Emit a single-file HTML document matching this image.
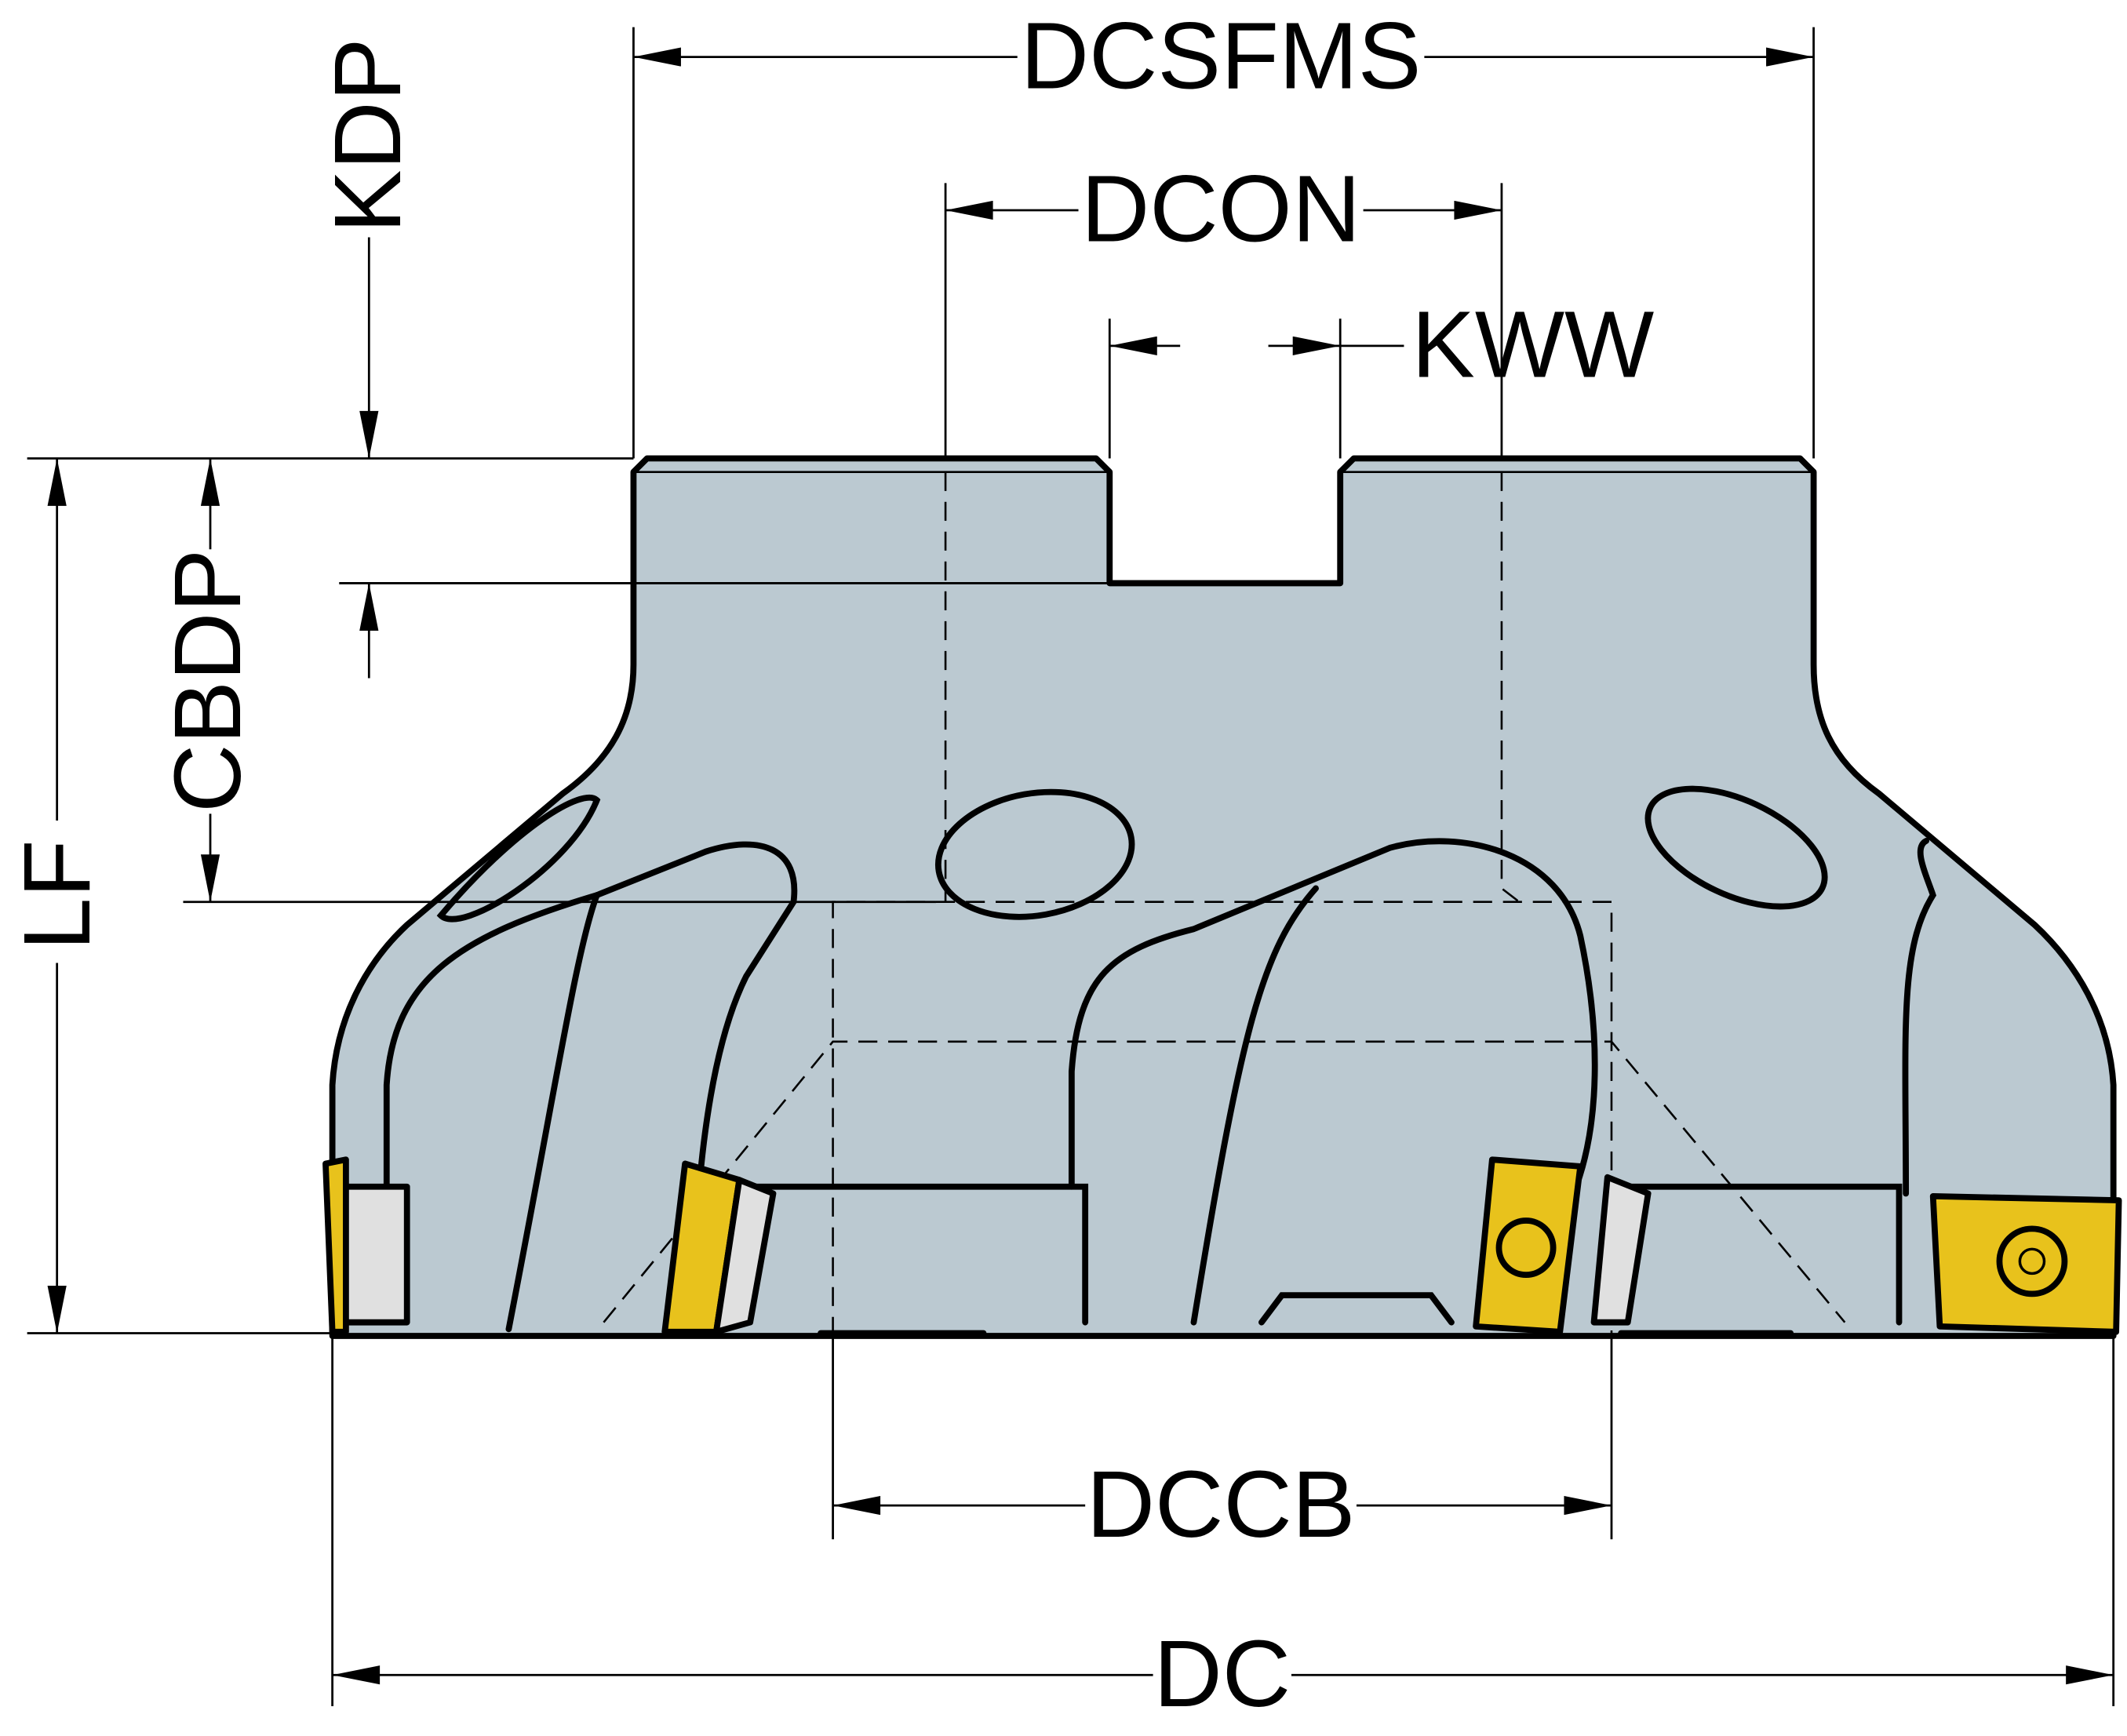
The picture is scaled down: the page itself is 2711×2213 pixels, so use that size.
<!DOCTYPE html>
<html><head><meta charset="utf-8"><style>
html,body{margin:0;padding:0;background:#fff}
svg{display:block}
text{font-family:"Liberation Sans",sans-serif;font-size:70px;fill:#000}
</style></head><body>
<svg width="2711" height="2213" viewBox="0 0 1568 1280" xmlns="http://www.w3.org/2000/svg">
<defs>
<marker id="a" viewBox="0 0 20 8" refX="20" refY="4" markerWidth="40" markerHeight="14" markerUnits="userSpaceOnUse" orient="auto-start-reverse"><path d="M0,0 L20,4 L0,8 Z" fill="#000"/></marker>
</defs>
<path d="M467,348 L477,338 L808,338 L818,348 L818,430 L988,430 L988,348 L998,338 L1327,338 L1337,348 L1337,490 C1337,530 1350,560 1385,585 L1500,682 C1530,710 1555,750 1558,800 L1558,985 L245,985 L245,800 C248,750 270,710 300,682 L415,585 C450,560 467,530 467,490 Z" fill="#bbc9d1" stroke="#000" stroke-width="4.5" stroke-linejoin="round"/>
<path d="M467,348 L818,348 M988,348 L1337,348" stroke="#000" stroke-width="1.5"/>
<g stroke="#000" stroke-width="1.5" fill="none" stroke-dasharray="14,8">
<path d="M697,348 L697,665 M1107,348 L1107,655 L1120,665 M614,985 L614,665 L1188,665 L1188,985 M445,975 L614,768 L1188,768 L1360,975"/>
</g>
<g stroke="#000" stroke-width="4.5" fill="none" stroke-linecap="round">
<path d="M440,590 C430,580 380,610 325,675 C340,690 420,640 440,590 Z"/>
<ellipse cx="763" cy="630" rx="72" ry="45" transform="rotate(-10 763 630)"/>
<ellipse cx="1280" cy="625" rx="70" ry="35" transform="rotate(25 1280 625)"/>
<path d="M285,875 L285,800 C290,720 340,690 440,660 L520,628 C560,615 590,625 585,665 L550,720 C530,760 520,820 515,880"/>
<path d="M440,660 C425,700 410,800 375,980"/>
<path d="M790,875 L790,790 C795,720 820,700 880,685 L1025,625 C1080,610 1150,630 1165,690 C1180,760 1180,830 1160,880"/>
<path d="M970,655 C930,700 915,760 880,975"/>
<path d="M1420,620 C1410,625 1420,645 1425,660 C1400,700 1405,760 1405,880"/>
<path d="M555,875 L800,875 L800,975"/>
<path d="M1190,875 L1400,875 L1400,975"/>
<path d="M930,975 L945,955 L1055,955 L1070,975"/>
<path d="M605,983 L725,983 M1195,983 L1320,983"/>
</g>
<g stroke="#000" stroke-width="4.5" stroke-linejoin="round">
<path d="M240,858 L255,855 L255,982 L245,982 Z" fill="#e8c21c"/>
<rect x="255" y="875" width="45" height="100" fill="#e0e0e0"/>
<path d="M505,858 L545,870 L528,982 L490,982 Z" fill="#e8c21c"/>
<path d="M545,870 L570,880 L553,975 L528,982 Z" fill="#e0e0e0"/>
<path d="M1100,855 L1165,860 L1150,982 L1088,978 Z" fill="#e8c21c"/>
<circle cx="1125" cy="920" r="20" fill="#e8c21c"/>
<path d="M1185,868 L1215,880 L1200,975 L1175,975 Z" fill="#e0e0e0"/>
<path d="M1425,882 L1562,885 L1560,982 L1430,978 Z" fill="#e8c21c"/>
<circle cx="1498" cy="930" r="24" fill="#e8c21c"/>
<circle cx="1498" cy="930" r="9" fill="none" stroke-width="2"/>
</g>
<g stroke="#000" stroke-width="1.6" fill="none">
<path d="M467,20 L467,338 M1337,20 L1337,338 M697,135 L697,338 M1107,135 L1107,338 M818,235 L818,338 M988,235 L988,338"/>
<path d="M20,338 L467,338 M250,430 L818,430 M135,665 L690,665 M20,983 L245,983"/>
<path d="M614,985 L614,1135 M1188,985 L1188,1135 M245,985 L245,1258 M1558,985 L1558,1258"/>
<line x1="467" y1="42" x2="750" y2="42" marker-start="url(#a)"/>
<line x1="1050" y1="42" x2="1337" y2="42" marker-end="url(#a)"/>
<line x1="697" y1="155" x2="795" y2="155" marker-start="url(#a)"/>
<line x1="1005" y1="155" x2="1107" y2="155" marker-end="url(#a)"/>
<line x1="818" y1="255" x2="870" y2="255" marker-start="url(#a)"/>
<line x1="935" y1="255" x2="988" y2="255" marker-end="url(#a)"/>
<line x1="988" y1="255" x2="1035" y2="255"/>
<line x1="272" y1="175" x2="272" y2="338" marker-end="url(#a)"/>
<line x1="272" y1="430" x2="272" y2="500" marker-start="url(#a)"/>
<line x1="155" y1="338" x2="155" y2="405" marker-start="url(#a)"/>
<line x1="155" y1="600" x2="155" y2="665" marker-end="url(#a)"/>
<line x1="42" y1="338" x2="42" y2="605" marker-start="url(#a)"/>
<line x1="42" y1="710" x2="42" y2="983" marker-end="url(#a)"/>
<line x1="614" y1="1110" x2="800" y2="1110" marker-start="url(#a)"/>
<line x1="1000" y1="1110" x2="1188" y2="1110" marker-end="url(#a)"/>
<line x1="245" y1="1235" x2="850" y2="1235" marker-start="url(#a)"/>
<line x1="952" y1="1235" x2="1558" y2="1235" marker-end="url(#a)"/>
</g>
<text x="900" y="65" text-anchor="middle">DCSFMS</text>
<text x="900" y="178" text-anchor="middle">DCON</text>
<text x="1130" y="278" text-anchor="middle">KWW</text>
<text x="900" y="1133" text-anchor="middle">DCCB</text>
<text x="901" y="1258" text-anchor="middle">DC</text>
<text transform="translate(295,100) rotate(-90)" text-anchor="middle">KDP</text>
<text transform="translate(177,502) rotate(-90)" text-anchor="middle">CBDP</text>
<text transform="translate(66,660) rotate(-90)" text-anchor="middle">LF</text>
</svg>
</body></html>
